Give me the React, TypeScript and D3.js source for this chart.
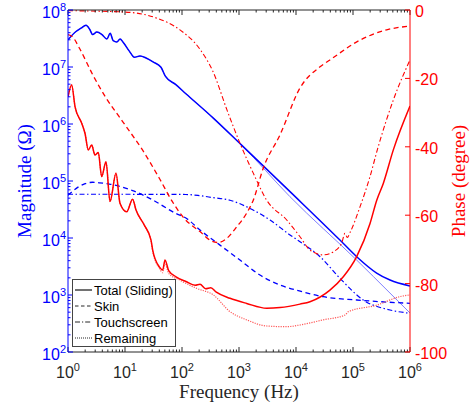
import React from "react";
import * as d3 from "d3";

// frequency (Hz), magnitude (ohm)
const totalMag: [number, number][] = [
  [1, 3.0e7], [1.38, 4.2e7], [1.69, 4.8e7], [2.07, 5.4e7], [2.4, 4.6e7], [2.7, 3.7e7],
  [3.2, 4.1e7], [3.95, 3.7e7], [4.8, 3.1e7], [5.5, 3.9e7], [6.2, 2.9e7], [7.2, 2.75e7],
  [8.2, 3.1e7], [9.2, 2.75e7], [11.9, 1.9e7], [14.6, 1.48e7], [18.3, 1.56e7], [23.4, 1.44e7],
  [31.4, 1.22e7], [42.8, 9.9e6], [51, 6.9e6], [78, 4.9e6], [117, 3.4e6], [354, 1.27e6],
  [1100, 4.3e5], [7850, 6.5e4], [59000, 9.2e3], [116000, 4.7e3], [260000, 2.43e3],
  [446000, 1.83e3], [1e6, 1.44e3],
];
const skinMag: [number, number][] = [
  [1, 5.6e4], [1.5, 7.8e4], [2.0, 9.0e4], [2.7, 9.5e4], [3.5, 9.3e4], [5.3, 8.85e4],
  [13.6, 6.8e4], [30.6, 4.65e4], [78, 2.7e4], [117, 2.24e4], [207, 1.38e4], [464, 7.5e3],
  [1040, 4.1e3], [2330, 2.24e3], [5240, 1.5e3], [11000, 1.19e3], [30000, 933],
  [116000, 817], [1e6, 714],
];
const touchMag: [number, number][] = [
  [1, 5.85e4], [10, 5.85e4], [117, 5.8e4], [200, 5.55e4], [354, 5.1e4], [695, 4.6e4],
  [1560, 3.3e4], [3500, 2.07e4], [7850, 1.13e4], [11750, 8.6e3], [26400, 4.7e3],
  [59100, 1.96e3], [151000, 817], [446000, 546], [1e6, 478],
];
const remainMag: [number, number][] = [
  [1, 3.0e7], [1.38, 4.2e7], [1.69, 4.8e7], [2.07, 5.4e7], [2.4, 4.6e7], [2.7, 3.7e7],
  [3.2, 4.1e7], [3.95, 3.7e7], [4.8, 3.1e7], [5.5, 3.9e7], [6.2, 2.9e7], [7.2, 2.75e7],
  [8.2, 3.1e7], [9.2, 2.75e7], [11.9, 1.9e7], [14.6, 1.48e7], [18.3, 1.56e7], [23.4, 1.44e7],
  [31.4, 1.22e7], [42.8, 9.9e6], [51, 6.9e6], [78, 4.9e6], [117, 3.4e6], [354, 1.27e6],
  [1100, 4.3e5], [7850, 5.3e4], [116000, 4.1e3], [446000, 1.08e3], [1e6, 483],
];

// frequency (Hz), phase (degree)
const totalPh: [number, number][] = [
  [1, -25.4], [1.16, -21.9], [1.33, -28.3], [1.74, -33.1], [1.99, -36.1], [2.27, -40.9],
  [2.6, -39.5], [2.98, -42.4], [3.4, -41.7], [3.9, -48.7], [4.64, -44.4], [5.46, -56],
  [6.95, -47.7], [8.17, -56.5], [10.7, -59], [13.6, -55.3], [15.6, -58.5], [21.8, -62.9],
  [28.6, -67.3], [30.6, -70.2], [40, -75.1], [45.9, -76], [50.3, -73.1], [58.4, -76.2],
  [78.5, -78], [117, -79.4], [170, -80.5], [207, -80.2], [260, -81.5], [320, -81.2],
  [400, -82.5], [695, -84.3], [1364, -85.8], [3060, -87.2], [5240, -87], [11750, -86],
  [17600, -85.3], [39400, -81.9], [67600, -78], [116000, -72.1], [199000, -62.4],
  [261000, -55.6], [340000, -50.7], [510000, -40.9], [1e6, -28.1],
];
const skinPh: [number, number][] = [
  [1, -7.2], [1.21, -7.9], [1.58, -11.1], [2.71, -18.9], [4.64, -25.7], [7.9, -31.2],
  [10.4, -34], [20.4, -41], [40, -49.2], [68.7, -56.2], [110, -61], [207, -64.8],
  [310, -67.3], [433, -68], [608, -66.8], [912, -63.4], [1364, -59.4], [1780, -55.6],
  [2670, -46.2], [5240, -36.5], [11750, -22.8], [26400, -16.6], [39400, -14.6],
  [133000, -8.8], [389000, -5.8], [1e6, -4.7],
];
const touchPh: [number, number][] = [
  [1, -0.2], [10, -0.6], [35, -2.3], [92, -5.8], [207, -11.5], [354, -18.2], [608, -29],
  [1042, -39], [1780, -47.7], [3060, -55.6], [6870, -61.4], [11750, -66.3], [17600, -70.2],
  [30100, -71.6], [45100, -70.7], [63100, -68.2], [72400, -65.3], [79400, -66.5],
  [88500, -65.1], [133000, -57.5], [199000, -48.7], [267000, -40.9], [510000, -26.3],
  [1e6, -14.6],
];
const remainPh: [number, number][] = [
  [1, -25.4], [1.16, -21.9], [1.33, -28.3], [1.74, -33.1], [1.99, -36.1], [2.27, -40.9],
  [2.6, -39.5], [2.98, -42.4], [3.4, -41.7], [3.9, -48.7], [4.64, -44.4], [5.46, -56],
  [6.95, -47.7], [8.17, -56.5], [10.7, -59], [13.6, -55.3], [15.6, -58.5], [21.8, -62.9],
  [28.6, -67.5], [30.6, -70.5], [40, -75.5], [45.9, -76.8], [50.3, -74], [58.4, -77],
  [92, -79], [181, -81.4], [354, -83.3], [695, -88.2], [1364, -90.6], [3060, -92.4],
  [6870, -92.6], [11750, -92.1], [30100, -90.6], [72400, -89.2], [82800, -88.2],
  [261000, -86.3], [668000, -83.8], [1e6, -83.3],
];

const legendLabels = ["Total (Sliding)", "Skin", "Touchscreen", "Remaining"];
const leftTicks = [1e2, 1e3, 1e4, 1e5, 1e6, 1e7, 1e8];
const bottomTicks = [1e0, 1e1, 1e2, 1e3, 1e4, 1e5, 1e6];
const rightTicks = [0, -20, -40, -60, -80, -100];

const W = 471, H = 404;
const L = 68, R = 410, T = 10, B = 352;
const BLUE = "#0000ff", RED = "#ff0000", AX = "#262626";
const SANS = "'Liberation Sans', Arial, Helvetica, sans-serif";
const SERIF = "'Liberation Serif', 'Times New Roman', serif";

const DASH = "5,3.5";
const DASHDOT = "5,2.5,1.5,2.5";
const DOT = "1.2,1.2";

export default function App() {
  const x = d3.scaleLog().domain([1, 1e6]).range([L, R]);
  const yM = d3.scaleLog().domain([1e2, 1e8]).range([B, T]);
  const yP = d3.scaleLinear().domain([-100, 0]).range([B, T]);

  const magLine = d3.line<[number, number]>().x(d => x(d[0])).y(d => yM(d[1])).curve(d3.curveMonotoneX);
  const phLine = d3.line<[number, number]>().x(d => x(d[0])).y(d => yP(d[1])).curve(d3.curveMonotoneX);

  const xMinor = x.ticks().filter(t => !bottomTicks.includes(t));
  const yMinor = yM.ticks().filter(t => !leftTicks.includes(t));
  const exp = (v: number) => Math.round(Math.log10(v));

  const legendDash = [undefined, "3.5,2.5", "5,2,1.2,2", "1,1"];

  return (
    <div style={{ position: "absolute", left: 0, top: 0 }}>
      <svg width={W} height={H} style={{ display: "block", background: "#fff" }}>
        <defs>
          <clipPath id="plot">
            <rect x={L} y={T} width={R - L} height={B - T} />
          </clipPath>
        </defs>

        <g clipPath="url(#plot)" fill="none">
          <path d={magLine(remainMag)!} stroke="#8080ff" strokeWidth={1} />
          <path d={magLine(touchMag)!} stroke={BLUE} strokeWidth={1.2} strokeDasharray={DASHDOT} />
          <path d={magLine(skinMag)!} stroke={BLUE} strokeWidth={1.3} strokeDasharray={DASH} />
          <path d={magLine(totalMag)!} stroke={BLUE} strokeWidth={1.5} />
          <path d={phLine(remainPh)!} stroke="#ff5a5a" strokeWidth={1.2} strokeDasharray={DOT} />
          <path d={phLine(touchPh)!} stroke={RED} strokeWidth={1.1} strokeDasharray={DASHDOT} />
          <path d={phLine(skinPh)!} stroke={RED} strokeWidth={1.3} strokeDasharray={DASH} />
          <path d={phLine(totalPh)!} stroke={RED} strokeWidth={1.5} />
        </g>

        {/* top and bottom axes */}
        <line x1={L} x2={R} y1={T} y2={T} stroke={AX} strokeWidth={1} />
        <line x1={L} x2={R} y1={B} y2={B} stroke={AX} strokeWidth={1} />
        {bottomTicks.map(t => (
          <g key={"xm" + t} stroke={AX}>
            <line x1={x(t)} x2={x(t)} y1={B} y2={B - 5} />
            <line x1={x(t)} x2={x(t)} y1={T} y2={T + 5} />
          </g>
        ))}
        {xMinor.map(t => (
          <g key={"xn" + t} stroke={AX}>
            <line x1={x(t)} x2={x(t)} y1={B} y2={B - 2.5} />
            <line x1={x(t)} x2={x(t)} y1={T} y2={T + 2.5} />
          </g>
        ))}
        {bottomTicks.map(t => (
          <text key={"xl" + t} x={x(t)} y={378} textAnchor="middle" fontFamily={SANS} fontSize={16} fill={AX}>
            10<tspan dy={-7} fontSize={11}>{exp(t)}</tspan>
          </text>
        ))}

        {/* left axis */}
        <line x1={L} x2={L} y1={T} y2={B} stroke={BLUE} strokeWidth={1} />
        {leftTicks.map(t => (
          <line key={"ym" + t} x1={L} x2={L + 5} y1={yM(t)} y2={yM(t)} stroke={BLUE} />
        ))}
        {yMinor.map(t => (
          <line key={"yn" + t} x1={L} x2={L + 2.5} y1={yM(t)} y2={yM(t)} stroke={BLUE} />
        ))}
        {leftTicks.map(t => (
          <text key={"yl" + t} x={66} y={yM(t) + 8} textAnchor="end" fontFamily={SANS} fontSize={16} fill={BLUE}>
            10<tspan dy={-7} fontSize={11}>{exp(t)}</tspan>
          </text>
        ))}

        {/* right axis */}
        <line x1={R} x2={R} y1={T} y2={B} stroke={RED} strokeWidth={1} />
        {rightTicks.map(t => (
          <g key={"r" + t}>
            <line x1={R} x2={R - 5} y1={yP(t)} y2={yP(t)} stroke={RED} />
            <text x={415} y={yP(t) + 7} fontFamily={SANS} fontSize={16} fill={RED}>{t}</text>
          </g>
        ))}

        {/* axis titles */}
        <text x={239} y={398} textAnchor="middle" fontFamily={SERIF} fontSize={19} fill={AX}>Frequency (Hz)</text>
        <text transform="translate(31,181) rotate(-90)" textAnchor="middle" fontFamily={SERIF} fontSize={19} fill={BLUE}>Magnitude (Ω)</text>
        <text transform="translate(465,181) rotate(-90)" textAnchor="middle" fontFamily={SERIF} fontSize={19} fill={RED}>Phase (degree)</text>

        {/* legend */}
        <rect x={72.5} y={279.5} width={103} height={67} fill="#fff" stroke="#444" strokeWidth={1} />
        {legendLabels.map((lab, i) => {
          const yy = 290 + i * 16;
          return (
            <g key={lab}>
              <line x1={75} x2={92} y1={yy} y2={yy} stroke={AX} strokeWidth={i === 0 ? 1.3 : 1} strokeDasharray={legendDash[i]} />
              <text x={94} y={yy + 4.5} fontFamily={SANS} fontSize={13} fill="#000">{lab}</text>
            </g>
          );
        })}
      </svg>
    </div>
  );
}
